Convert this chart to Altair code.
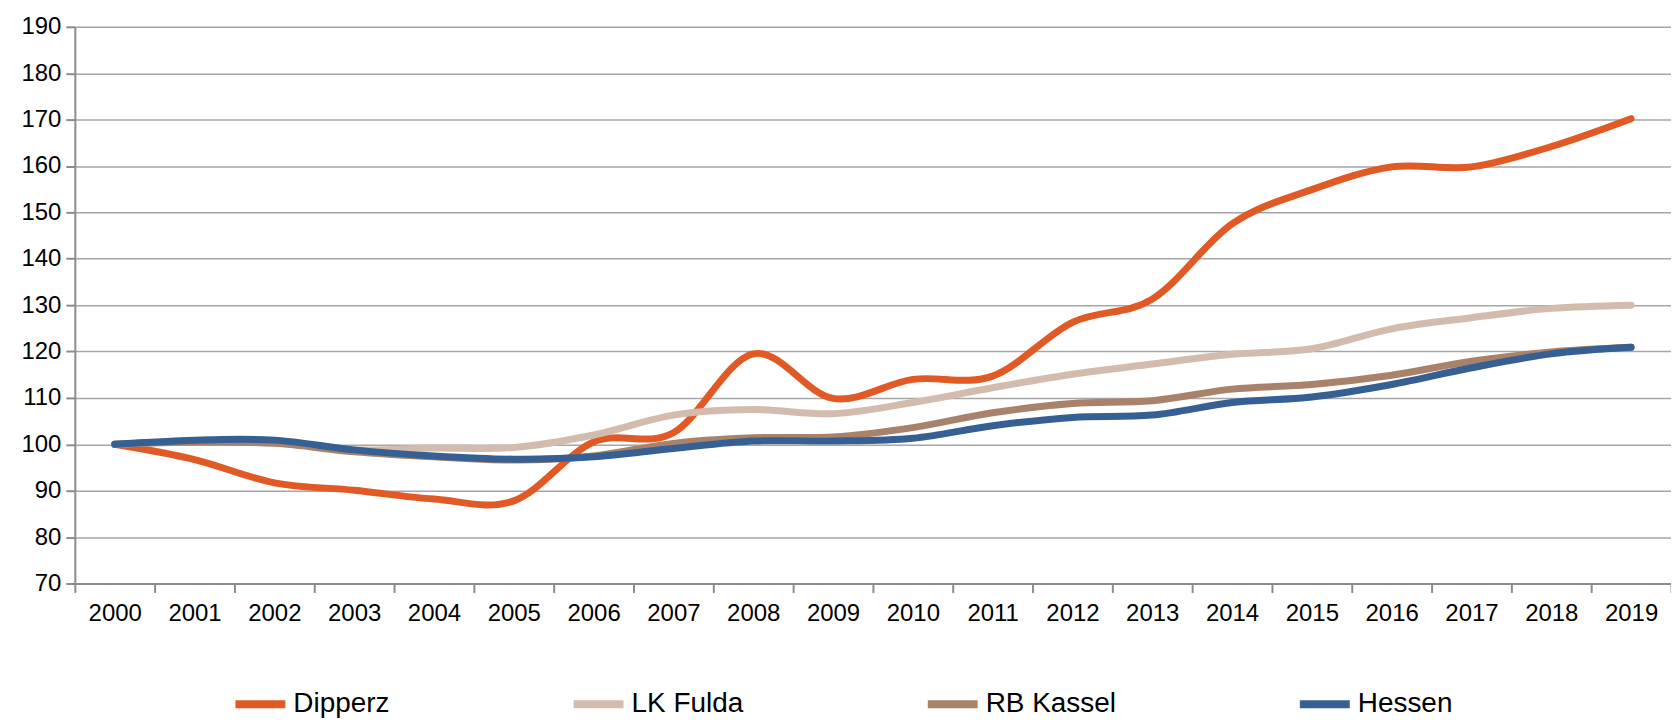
import altair as alt
import pandas as pd

years = [str(y) for y in range(2000, 2020)]
series_names = ["Dipperz", "LK Fulda", "RB Kassel", "Hessen"]
dipperz = [100, 96.7, 91.7, 90.1, 88.2, 87.8, 100.5, 102.5, 119.5, 109.9,
           114.0, 114.7, 126.3, 131.3, 147.5, 154.9, 159.8, 159.8, 164.2, 170.2]
lk_fulda = [100, 100.6, 100.4, 98.8, 99.2, 99.3, 102.0, 106.3, 107.5, 106.6,
            109.0, 112.2, 115.1, 117.3, 119.4, 120.6, 124.9, 127.3, 129.3, 130.0]
rb_kassel = [100, 100.5, 100.2, 98.4, 97.3, 96.6, 97.5, 100.2, 101.4, 101.6,
             103.6, 106.8, 108.8, 109.4, 111.9, 112.9, 114.9, 117.9, 119.9, 120.9]
hessen = [100, 100.9, 100.9, 98.8, 97.5, 96.8, 97.3, 99.1, 100.7, 100.7,
          101.3, 104.0, 105.8, 106.3, 109.0, 110.2, 112.9, 116.5, 119.5, 120.9]
y_ticks = list(range(70, 200, 10))
colors = ["#E15A25", "#D3BCAE", "#A8826A", "#366093"]

rows = []
for name, vals in zip(series_names, [dipperz, lk_fulda, rb_kassel, hessen]):
    for yr, v in zip(years, vals):
        rows.append({"Jahr": yr, "Wert": v, "Serie": name,
                     "order": series_names.index(name)})
df = pd.DataFrame(rows)

FONT = "Liberation Sans"

chart = alt.Chart(df).mark_line(
    strokeWidth=7, interpolate="cardinal", strokeCap="round", strokeJoin="round"
).encode(
    x=alt.X("Jahr:O", bandPosition=0.5,
            scale=alt.Scale(type="band", paddingInner=0, paddingOuter=0),
            axis=alt.Axis(title=None, labelAngle=0, tickBand="extent",
                          labelFontSize=24, labelFont=FONT, labelColor="#000000",
                          labelPadding=9, tickSize=9, tickWidth=2,
                          tickColor="#8c8c8c", domainColor="#8c8c8c",
                          domainWidth=2, grid=False)),
    y=alt.Y("Wert:Q",
            scale=alt.Scale(domain=[70, 190], nice=False, zero=False),
            axis=alt.Axis(title=None, values=y_ticks, labelFontSize=24,
                          labelFont=FONT, labelColor="#000000", labelPadding=5,
                          tickSize=9, tickWidth=2, tickColor="#8c8c8c",
                          domainColor="#8c8c8c", domainWidth=2,
                          gridColor="#a6a6a6", gridWidth=1.5)),
    color=alt.Color("Serie:N",
                    scale=alt.Scale(domain=series_names, range=colors),
                    sort=series_names,
                    legend=alt.Legend(title=None, orient="none",
                                      direction="horizontal",
                                      legendX=157, legendY=650,
                                      columns=4, columnPadding=168,
                                      labelFontSize=28, labelFont=FONT,
                                      labelColor="#000000", labelOffset=4,
                                      symbolType="stroke", symbolSize=2500,
                                      symbolStrokeWidth=8)),
    order=alt.Order("order:Q"),
).properties(
    width=1600, height=558,
    autosize=alt.AutoSizeParams(type="none"),
    padding={"left": 67, "top": 18, "right": 0, "bottom": 140},
).configure_view(stroke=None).configure_legend(symbolStrokeWidth=8)

chart.save("out.html", embed_options={"renderer": "svg", "actions": False})
